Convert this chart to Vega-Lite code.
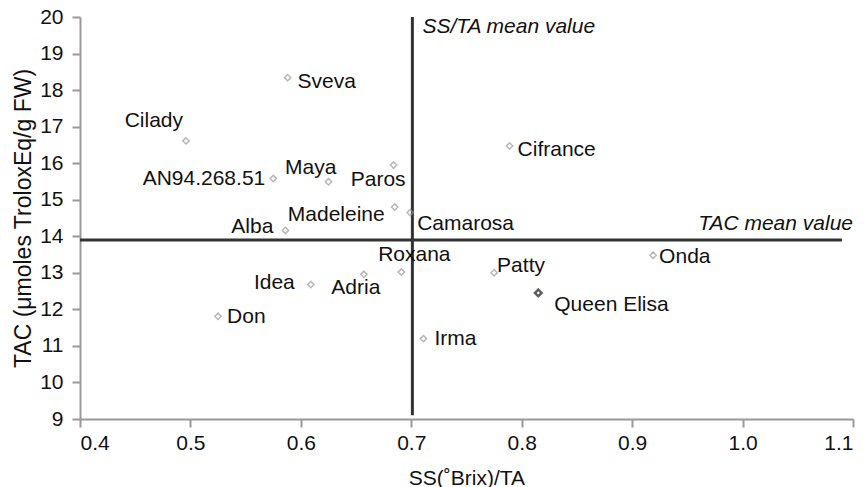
{
  "$schema": "https://vega.github.io/schema/vega-lite/v6.json",
  "width": 773,
  "height": 402,
  "autosize": {"type": "none"},
  "padding": {"left": 80, "top": 17, "right": 15, "bottom": 68},
  "background": "white",
  "config": {
    "view": {"stroke": null},
    "font": "Liberation Sans",
    "text": {"font": "Liberation Sans", "fontSize": 21, "color": "#111", "baseline": "middle"}
  },
  "datasets": {
    "cultivars": [
      {"name": "Cilady", "ss": 0.496, "tac": 16.61},
      {"name": "Sveva", "ss": 0.588, "tac": 18.34},
      {"name": "AN94.268.51", "ss": 0.575, "tac": 15.58},
      {"name": "Alba", "ss": 0.586, "tac": 14.16},
      {"name": "Maya", "ss": 0.625, "tac": 15.49},
      {"name": "Paros", "ss": 0.684, "tac": 15.95},
      {"name": "Madeleine", "ss": 0.685, "tac": 14.8},
      {"name": "Camarosa", "ss": 0.699, "tac": 14.65},
      {"name": "Cifrance", "ss": 0.789, "tac": 16.47},
      {"name": "Onda", "ss": 0.919, "tac": 13.48},
      {"name": "Queen Elisa", "ss": 0.815, "tac": 12.45},
      {"name": "Patty", "ss": 0.775, "tac": 13.0},
      {"name": "Irma", "ss": 0.711, "tac": 11.2},
      {"name": "Roxana", "ss": 0.691, "tac": 13.02},
      {"name": "Adria", "ss": 0.657, "tac": 12.96},
      {"name": "Idea", "ss": 0.609, "tac": 12.68},
      {"name": "Don", "ss": 0.525, "tac": 11.81}
    ],
    "means": [{"ss": 0.701, "tac": 13.9}]
  },
  "data": {"name": "cultivars"},
  "encoding": {
    "x": {
      "field": "ss", "type": "quantitative",
      "scale": {"domain": [0.4, 1.1], "nice": false, "zero": false},
      "axis": {
        "title": "SS(˚Brix)/TA", "values": [0.4, 0.5, 0.6, 0.7, 0.8, 0.9, 1.0, 1.1], "format": ".1f",
        "grid": false, "domainColor": "#999", "domainWidth": 2, "tickColor": "#999", "tickWidth": 2, "tickSize": 8,
        "labelFont": "Liberation Sans", "labelFontSize": 21, "labelColor": "#111", "labelPadding": 5,
        "titleFont": "Liberation Sans", "titleFontSize": 21, "titleFontWeight": "normal", "titleColor": "#111",
        "titleBaseline": "middle", "titleY": 59
      }
    },
    "y": {
      "field": "tac", "type": "quantitative",
      "scale": {"domain": [9, 20], "nice": false, "zero": false},
      "axis": {
        "title": "TAC (μmoles TroloxEq/g FW)", "values": [9, 10, 11, 12, 13, 14, 15, 16, 17, 18, 19, 20],
        "grid": false, "domainColor": "#999", "domainWidth": 2, "tickColor": "#999", "tickWidth": 2, "tickSize": 8,
        "labelFont": "Liberation Sans", "labelFontSize": 21, "labelColor": "#111", "labelPadding": 9,
        "titleFont": "Liberation Sans", "titleFontSize": 23, "titleFontWeight": "normal", "titleColor": "#111",
        "titleBaseline": "middle", "titleX": -57
      }
    }
  },
  "layer": [
    {
      "data": {"name": "means"},
      "mark": {"type": "rule", "color": "#333", "strokeWidth": 3},
      "encoding": {"y": {"datum": 9.1, "type": "quantitative"}, "y2": {"datum": 20}}
    },
    {
      "data": {"name": "means"},
      "mark": {"type": "rule", "color": "#333", "strokeWidth": 3},
      "encoding": {"x": {"datum": 0.4, "type": "quantitative"}, "x2": {"datum": 1.09}}
    },
    {
      "data": {"name": "means"},
      "mark": {"type": "text", "fontStyle": "italic", "align": "left", "dx": 10, "dy": 10},
      "encoding": {"y": {"datum": 20, "type": "quantitative"}, "text": {"value": "SS/TA mean value"}}
    },
    {
      "data": {"name": "means"},
      "mark": {"type": "text", "fontStyle": "italic", "align": "right", "dy": -16},
      "encoding": {"x": {"datum": 1.1, "type": "quantitative"}, "text": {"value": "TAC mean value"}}
    },
    {
      "mark": {"type": "point", "shape": "diamond", "filled": false, "size": 40, "strokeWidth": 1.5, "color": "#999"}
    },
    {
      "transform": [{"filter": "datum.name == 'Queen Elisa'"}],
      "mark": {"type": "point", "shape": "diamond", "filled": false, "size": 45, "strokeWidth": 2.5, "color": "#333"}
    },
    {"transform": [{"filter": "datum.name == 'Cilady'"}], "mark": {"type": "text", "align": "right", "dx": -3, "dy": -20}, "encoding": {"text": {"field": "name"}}},
    {"transform": [{"filter": "datum.name == 'AN94.268.51'"}], "mark": {"type": "text", "align": "right", "dx": -8, "dy": 0}, "encoding": {"text": {"field": "name"}}},
    {"transform": [{"filter": "datum.name == 'Alba'"}], "mark": {"type": "text", "align": "right", "dx": -12, "dy": -3}, "encoding": {"text": {"field": "name"}}},
    {"transform": [{"filter": "datum.name == 'Madeleine'"}], "mark": {"type": "text", "align": "right", "dx": -10, "dy": 8}, "encoding": {"text": {"field": "name"}}},
    {"transform": [{"filter": "datum.name == 'Idea'"}], "mark": {"type": "text", "align": "right", "dx": -16, "dy": -2}, "encoding": {"text": {"field": "name"}}},
    {"transform": [{"filter": "datum.name == 'Paros'"}], "mark": {"type": "text", "align": "right", "dx": 12, "dy": 15}, "encoding": {"text": {"field": "name"}}},
    {"transform": [{"filter": "datum.name == 'Maya'"}], "mark": {"type": "text", "align": "right", "dx": 8, "dy": -14}, "encoding": {"text": {"field": "name"}}},
    {"transform": [{"filter": "datum.name == 'Roxana'"}], "mark": {"type": "text", "align": "center", "dx": 13, "dy": -17}, "encoding": {"text": {"field": "name"}}},
    {"transform": [{"filter": "datum.name == 'Adria'"}], "mark": {"type": "text", "align": "center", "dx": -8, "dy": 14}, "encoding": {"text": {"field": "name"}}},
    {"transform": [{"filter": "datum.name == 'Sveva'"}], "mark": {"type": "text", "align": "left", "dx": 10, "dy": 4}, "encoding": {"text": {"field": "name"}}},
    {"transform": [{"filter": "datum.name == 'Camarosa'"}], "mark": {"type": "text", "align": "left", "dx": 7, "dy": 11}, "encoding": {"text": {"field": "name"}}},
    {"transform": [{"filter": "datum.name == 'Cifrance'"}], "mark": {"type": "text", "align": "left", "dx": 8, "dy": 4}, "encoding": {"text": {"field": "name"}}},
    {"transform": [{"filter": "datum.name == 'Onda'"}], "mark": {"type": "text", "align": "left", "dx": 6, "dy": 2}, "encoding": {"text": {"field": "name"}}},
    {"transform": [{"filter": "datum.name == 'Queen Elisa'"}], "mark": {"type": "text", "align": "left", "dx": 16, "dy": 12}, "encoding": {"text": {"field": "name"}}},
    {"transform": [{"filter": "datum.name == 'Patty'"}], "mark": {"type": "text", "align": "left", "dx": 3, "dy": -7}, "encoding": {"text": {"field": "name"}}},
    {"transform": [{"filter": "datum.name == 'Irma'"}], "mark": {"type": "text", "align": "left", "dx": 11, "dy": 0}, "encoding": {"text": {"field": "name"}}},
    {"transform": [{"filter": "datum.name == 'Don'"}], "mark": {"type": "text", "align": "left", "dx": 9, "dy": 1}, "encoding": {"text": {"field": "name"}}}
  ]
}
